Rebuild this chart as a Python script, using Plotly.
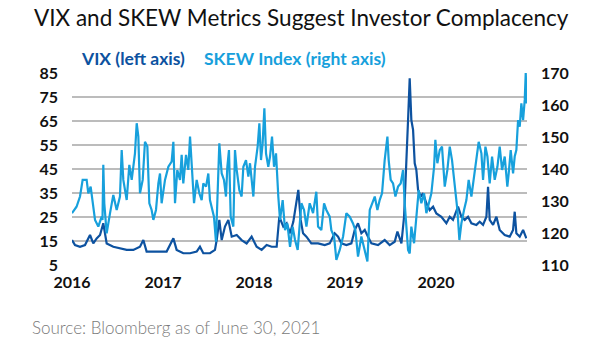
import plotly.graph_objects as go

# SKEW Index (right axis), decimal-year positions
skew_x = [2016.00, 2016.05, 2016.088, 2016.117, 2016.161, 2016.179, 2016.205, 2016.227, 2016.253, 2016.289,
          2016.326, 2016.335, 2016.344, 2016.355, 2016.381, 2016.418, 2016.454, 2016.491, 2016.527, 2016.546,
          2016.564, 2016.601, 2016.630, 2016.656, 2016.692, 2016.711, 2016.729, 2016.747, 2016.777, 2016.802,
          2016.828, 2016.850, 2016.875, 2016.894, 2016.923, 2016.949, 2016.967, 2016.985, 2017.022, 2017.059,
          2017.095, 2017.114, 2017.132, 2017.157, 2017.187, 2017.205, 2017.223, 2017.253, 2017.278, 2017.297,
          2017.315, 2017.341, 2017.370, 2017.399, 2017.425, 2017.443, 2017.473, 2017.498, 2017.516, 2017.535,
          2017.560, 2017.582, 2017.608, 2017.619, 2017.645, 2017.670, 2017.692, 2017.707, 2017.725, 2017.744,
          2017.773, 2017.791, 2017.810, 2017.839, 2017.864, 2017.883, 2017.912, 2017.938, 2017.956, 2017.974,
          2017.993, 2018.011, 2018.040, 2018.059, 2018.077, 2018.095, 2018.114, 2018.132, 2018.157, 2018.176,
          2018.198, 2018.220, 2018.242, 2018.267, 2018.286, 2018.315, 2018.341, 2018.366, 2018.396, 2018.425,
          2018.451, 2018.480, 2018.521, 2018.550, 2018.576, 2018.612, 2018.649, 2018.685, 2018.704, 2018.740,
          2018.770, 2018.795, 2018.832, 2018.850, 2018.880, 2018.905, 2018.942, 2018.979, 2019.015, 2019.052,
          2019.088, 2019.114, 2019.143, 2019.180, 2019.217, 2019.246, 2019.272, 2019.297, 2019.327, 2019.356,
          2019.381, 2019.407, 2019.436, 2019.466, 2019.480, 2019.502, 2019.528, 2019.554, 2019.583, 2019.612,
          2019.638, 2019.656, 2019.674, 2019.693, 2019.711, 2019.729, 2019.759, 2019.784, 2019.810, 2019.839,
          2019.869, 2019.894, 2019.920, 2019.949, 2019.979, 2019.993, 2020.015, 2020.041, 2020.066, 2020.096,
          2020.125, 2020.151, 2020.176, 2020.206, 2020.235, 2020.257, 2020.279, 2020.308, 2020.334, 2020.359,
          2020.389, 2020.418, 2020.444, 2020.469, 2020.499, 2020.517, 2020.543, 2020.565, 2020.590, 2020.616,
          2020.645, 2020.675, 2020.700, 2020.726, 2020.755, 2020.784, 2020.799, 2020.821, 2020.847, 2020.865,
          2020.883, 2020.902, 2020.920, 2020.938, 2020.957, 2020.975, 2020.986, 2020.997]
skew_y = [126.2, 128.2, 131.4, 136.6, 136.6, 132.4, 134.5, 129.3, 124.1, 122.0,
          125.1, 124.1, 141.3, 129.3, 119.9, 126.2, 131.9, 127.2, 131.4, 145.9,
          136.6, 130.3, 141.3, 136.6, 144.9, 154.3, 150.1, 132.4, 136.6, 148.5,
          147.0, 129.3, 127.2, 124.1, 127.2, 135.5, 138.6, 129.3, 136.6, 140.7,
          142.3, 148.5, 129.3, 139.7, 136.6, 144.4, 135.5, 144.4, 139.7, 150.1,
          140.7, 129.3, 136.6, 132.4, 130.3, 135.5, 134.5, 138.6, 130.3, 128.2,
          125.1, 117.3, 139.7, 148.0, 138.6, 136.6, 131.4, 140.7, 145.9, 125.1,
          122.0, 145.9, 139.7, 133.4, 131.4, 140.7, 142.8, 137.6, 141.8, 136.6,
          131.4, 140.7, 147.0, 154.3, 142.8, 148.0, 159.0, 144.9, 140.7, 143.9,
          150.1, 140.7, 144.9, 131.4, 124.1, 130.3, 120.9, 123.0, 115.7, 122.0,
          117.8, 114.7, 129.3, 127.2, 122.0, 129.3, 126.2, 132.9, 122.0, 120.9,
          129.3, 127.2, 125.1, 120.9, 118.9, 111.6, 114.7, 118.9, 126.2, 125.1,
          123.0, 120.9, 112.6, 118.9, 114.7, 111.1, 127.2, 129.3, 131.4, 127.2,
          130.3, 132.4, 142.8, 150.1, 142.8, 136.6, 135.5, 131.4, 134.5, 135.5,
          139.7, 129.3, 123.0, 114.7, 113.6, 122.0, 116.8, 126.2, 133.4, 129.3,
          132.4, 126.2, 129.3, 132.4, 140.7, 149.1, 141.8, 145.9, 147.0, 134.5,
          139.7, 147.0, 142.8, 134.5, 127.2, 117.8, 123.0, 127.2, 130.3, 136.6,
          131.4, 137.6, 143.9, 148.5, 144.9, 136.6, 147.0, 143.9, 135.5, 143.9,
          136.6, 140.7, 147.0, 139.7, 143.9, 134.5, 138.6, 145.9, 138.6, 143.9,
          145.9, 155.3, 153.2, 160.5, 155.3, 161.6, 170.0, 160.5]

# VIX (left axis), decimal-year positions
vix_x = [2016.00, 2016.033, 2016.088, 2016.143, 2016.198, 2016.234, 2016.271, 2016.308, 2016.344, 2016.381,
         2016.454, 2016.527, 2016.601, 2016.674, 2016.747, 2016.784, 2016.820, 2016.894, 2016.967, 2017.040,
         2017.114, 2017.150, 2017.223, 2017.297, 2017.370, 2017.406, 2017.443, 2017.516, 2017.571, 2017.590,
         2017.619, 2017.645, 2017.681, 2017.718, 2017.755, 2017.810, 2017.864, 2017.919, 2017.974, 2018.029,
         2018.084, 2018.139, 2018.194, 2018.249, 2018.278, 2018.322, 2018.359, 2018.396, 2018.432, 2018.469,
         2018.487, 2018.513, 2018.539, 2018.576, 2018.630, 2018.704, 2018.777, 2018.832, 2018.887, 2018.924,
         2018.960, 2019.015, 2019.070, 2019.107, 2019.143, 2019.180, 2019.217, 2019.253, 2019.290, 2019.363,
         2019.436, 2019.491, 2019.546, 2019.576, 2019.620, 2019.649, 2019.674, 2019.693, 2019.711, 2019.729,
         2019.748, 2019.766, 2019.784, 2019.803, 2019.832, 2019.858, 2019.894, 2019.931, 2019.968, 2020.004,
         2020.059, 2020.114, 2020.151, 2020.187, 2020.242, 2020.279, 2020.316, 2020.352, 2020.389, 2020.444,
         2020.480, 2020.517, 2020.554, 2020.572, 2020.590, 2020.627, 2020.664, 2020.700, 2020.755, 2020.810,
         2020.847, 2020.865, 2020.883, 2020.920, 2020.957, 2020.993]
vix_y = [15.4, 13.3, 12.6, 13.3, 17.5, 14.0, 16.1, 17.5, 22.4, 14.0,
         12.6, 11.9, 11.3, 11.3, 12.6, 15.4, 10.6, 10.6, 10.6, 10.6,
         16.1, 11.3, 9.9, 9.9, 10.6, 12.6, 9.9, 9.9, 11.3, 15.4,
         23.8, 15.4, 21.0, 23.8, 16.8, 17.5, 15.4, 14.0, 16.8, 12.6,
         11.3, 13.3, 12.6, 12.6, 25.1, 21.0, 22.4, 18.2, 23.0, 32.1,
         36.3, 23.8, 18.2, 16.8, 14.0, 14.0, 13.3, 14.0, 18.2, 16.8,
         14.0, 13.3, 14.0, 19.6, 22.4, 18.2, 19.6, 16.8, 14.0, 13.3,
         15.4, 13.3, 14.7, 18.9, 14.0, 25.1, 44.6, 65.4, 82.8, 65.4,
         61.3, 47.4, 44.6, 36.3, 33.5, 34.9, 30.7, 27.9, 29.3, 26.5,
         25.1, 22.4, 25.1, 23.8, 29.3, 25.1, 23.8, 25.1, 22.4, 21.7,
         23.0, 21.7, 25.1, 37.6, 23.8, 21.7, 25.1, 19.6, 17.5, 16.8,
         19.6, 27.2, 18.2, 16.8, 19.6, 16.1]

year_ticks = [2016, 2017, 2018, 2019, 2020]
vix_ticks = [5, 15, 25, 35, 45, 55, 65, 75, 85]
skew_ticks = [110, 120, 130, 140, 150, 160, 170]

VIX_BLUE = "#0d52a0"
SKEW_BLUE = "#17a0dc"
FONT = "Lato"

fig = go.Figure()
fig.add_trace(go.Scatter(x=skew_x, y=skew_y, mode="lines", yaxis="y2", name="SKEW Index",
                         line=dict(color=SKEW_BLUE, width=2.2)))
fig.add_trace(go.Scatter(x=vix_x, y=vix_y, mode="lines", yaxis="y", name="VIX",
                         line=dict(color=VIX_BLUE, width=2.2)))

tick_font = dict(family=FONT, size=16, color="#111111", weight=700)

fig.update_layout(
    width=605, height=341,
    margin=dict(l=72, r=78, t=73, b=76),
    paper_bgcolor="white", plot_bgcolor="white",
    showlegend=False,
    xaxis=dict(range=[2016, 2021], tickvals=year_ticks, ticktext=[str(y) for y in year_ticks],
               showgrid=False, zeroline=False, showline=False, ticks="",
               tickfont=tick_font, ticklabelstandoff=6),
    yaxis=dict(range=[5, 85], tickvals=vix_ticks, showgrid=True, gridcolor="#bcbcbc", gridwidth=1.5,
               zeroline=False, showline=False, ticks="", tickfont=tick_font, ticklabelstandoff=13),
    yaxis2=dict(range=[110, 170], tickvals=skew_ticks, overlaying="y", side="right", showgrid=False,
                zeroline=False, showline=False, ticks="", tickfont=tick_font, ticklabelstandoff=13),
    annotations=[
        dict(text="VIX and SKEW Metrics Suggest Investor Complacency", xref="paper", yref="paper",
             x=-0.088, y=1.0, xanchor="left", yanchor="bottom", yshift=40, showarrow=False,
             font=dict(family=FONT, size=22.5, color="#111111")),
        dict(text="VIX (left axis)", xref="paper", yref="paper", x=0.015, y=1.0,
             xanchor="left", yanchor="bottom", yshift=2, showarrow=False,
             font=dict(family=FONT, size=17.5, color=VIX_BLUE, weight=700)),
        dict(text="SKEW Index (right axis)", xref="paper", yref="paper", x=0.285, y=1.0,
             xanchor="left", yanchor="bottom", yshift=2, showarrow=False,
             font=dict(family=FONT, size=17.5, color=SKEW_BLUE, weight=700)),
        dict(text="Source: Bloomberg as of June 30, 2021", xref="paper", yref="paper",
             x=-0.092, y=0.0, xanchor="left", yanchor="top", yshift=-50, showarrow=False,
             font=dict(family=FONT, size=17, color="#7a7a7a", weight=300)),
    ],
)

fig.write_html("out.html")
